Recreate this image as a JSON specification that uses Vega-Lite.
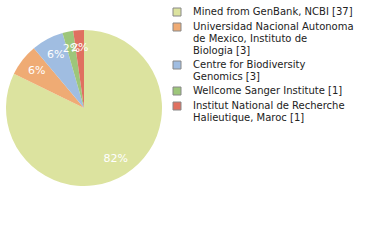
{
  "$schema": "https://vega.github.io/schema/vega-lite/v6.json",
  "width": 168,
  "height": 216,
  "autosize": "none",
  "padding": {"left": 0, "top": 0, "right": 212, "bottom": 24},
  "background": "white",
  "data": {"values": [
    {"name": "Mined from GenBank, NCBI [37]", "count": 37, "pct": "82%", "order": 1},
    {"name": "Universidad Nacional Autonoma|de Mexico, Instituto de|Biologia [3]", "count": 3, "pct": "6%", "order": 2},
    {"name": "Centre for Biodiversity|Genomics [3]", "count": 3, "pct": "6%", "order": 3},
    {"name": "Wellcome Sanger Institute [1]", "count": 1, "pct": "2%", "order": 4},
    {"name": "Institut National de Recherche|Halieutique, Maroc [1]", "count": 1, "pct": "2%", "order": 5}
  ]},
  "encoding": {
    "theta": {"field": "count", "type": "quantitative", "stack": true},
    "order": {"field": "order", "type": "ordinal"},
    "color": {
      "field": "name", "type": "nominal",
      "sort": {"field": "order"},
      "scale": {
        "domain": ["Mined from GenBank, NCBI [37]", "Universidad Nacional Autonoma|de Mexico, Instituto de|Biologia [3]", "Centre for Biodiversity|Genomics [3]", "Wellcome Sanger Institute [1]", "Institut National de Recherche|Halieutique, Maroc [1]"],
        "range": ["#dce39f", "#efab74", "#a0bde1", "#9dc67a", "#e07060"]
      },
      "legend": {
        "title": null,
        "orient": "none",
        "legendX": 172,
        "legendY": 7,
        "symbolType": "square",
        "symbolSize": 64,
        "symbolStrokeColor": "#888888",
        "symbolStrokeWidth": 1,
        "labelExpr": "split(datum.label, '|')",
        "labelFont": "DejaVu Sans",
        "labelFontSize": 10,
        "labelColor": "#222222",
        "labelLimit": 300,
        "labelOffset": 11,
        "rowPadding": 3,
        "labelLineHeight": 12
      }
    }
  },
  "layer": [
    {"mark": {"type": "arc", "outerRadius": 78}},
    {"mark": {"type": "text", "radius": 60, "font": "DejaVu Sans", "fontSize": 11, "fill": "white"},
     "encoding": {"text": {"field": "pct", "type": "nominal"}, "color": {"value": "white"}}}
  ]
}
